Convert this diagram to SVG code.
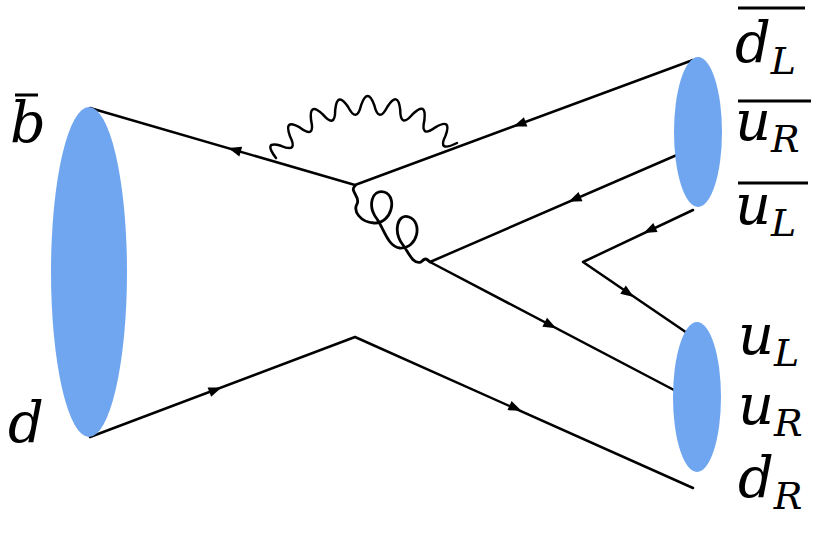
<svg xmlns="http://www.w3.org/2000/svg" xmlns:xlink="http://www.w3.org/1999/xlink" width="831" height="542" viewBox="0 0 831 542">
<style>
.l{stroke:#000;stroke-width:2.5;fill:none;stroke-linecap:round;stroke-linejoin:round}
.b{fill:#70a6f0}
.t{font-family:"DejaVu Serif","Liberation Serif",serif;font-style:italic;fill:#000}
.m{font-size:56px}
.s{font-size:38px}
.o{stroke:#000;stroke-width:3}
</style>
<defs><path id="a" d="M7,0 L-6,-5 L-6,5Z" fill="#000"/></defs>
<rect width="831" height="542" fill="#fff"/>
<g id="connectors">
<path class="l" d="M90,108 L355,185 L693,60"/>
<path class="l" d="M90,437 L355,337 L693,488"/>
<path class="l" d="M693,148 L430,262 L693,400"/>
<path class="l" d="M693,210 L583,262 L693,337"/>
<path class="l" d="M276,158 Q262.5,140.4 281,145.8 Q298.5,153.2 290,136.2 Q283.3,118 300.1,127.7 Q315.4,138.9 311.1,120.4 Q308.7,101.2 322.8,114.4 Q335.2,128.9 335.2,109.9 Q337.3,90.6 348,106.8 Q356.7,123.7 361.1,105.2 Q367.6,87 374.3,105.2 Q378.8,123.6 387.4,106.7 Q398,90.5 400.2,109.7 Q400.3,128.7 412.6,114.2 Q426.6,100.8 424.4,120.1 Q420.1,138.6 435.4,127.3 Q452.2,117.6 445.5,135.8 Q437.1,152.8 457,143"/>
<path class="l" style="stroke-width:2.8" d="M355,186 C349,191 361,197 357,204 C353,211 360,222 374,223 C392,224 398,196 384,192 C372,189 367,206 377,219 C384,229 388,247 400,248 C418,249 423,222 409,217 C397,213 393,232 403,245 C409,253 413,265 421,262 C425,258 426,258 430,262"/>
<use xlink:href="#a" transform="translate(235,150) rotate(196.2)"/>
<use xlink:href="#a" transform="translate(520,124) rotate(159.7)"/>
<use xlink:href="#a" transform="translate(575,199) rotate(156.6)"/>
<use xlink:href="#a" transform="translate(550,325) rotate(27.7)"/>
<use xlink:href="#a" transform="translate(650,230) rotate(154.7)"/>
<use xlink:href="#a" transform="translate(628,293) rotate(34.3)"/>
<use xlink:href="#a" transform="translate(215,390) rotate(-20.7)"/>
<use xlink:href="#a" transform="translate(515,408) rotate(24.1)"/>
</g>
<g id="proton"><ellipse class="b" cx="89" cy="272" rx="38" ry="165"/></g>
<g id="hadron1"><ellipse class="b" cx="698" cy="132" rx="24" ry="75"/></g>
<g id="hadron2"><ellipse class="b" cx="697" cy="397" rx="24" ry="75"/></g>
<g id="labels">
<text class="t m" x="10" y="142">b</text><line class="o" x1="15" y1="95" x2="38" y2="95"/>
<text class="t m" x="8" y="442">d</text>
<text class="t m" x="735" y="62">d<tspan class="s" dy="12">L</tspan></text><line class="o" x1="738" y1="8" x2="805" y2="8"/>
<text class="t m" x="735" y="140">u<tspan class="s" dy="12">R</tspan></text><line class="o" x1="738" y1="101" x2="811" y2="101"/>
<text class="t m" x="735" y="224">u<tspan class="s" dy="12">L</tspan></text><line class="o" x1="738" y1="183" x2="808" y2="183"/>
<text class="t m" x="738" y="354">u<tspan class="s" dy="12">L</tspan></text>
<text class="t m" x="738" y="424">u<tspan class="s" dy="12">R</tspan></text>
<text class="t m" x="738" y="497">d<tspan class="s" dy="12">R</tspan></text>
</g>
</svg>
